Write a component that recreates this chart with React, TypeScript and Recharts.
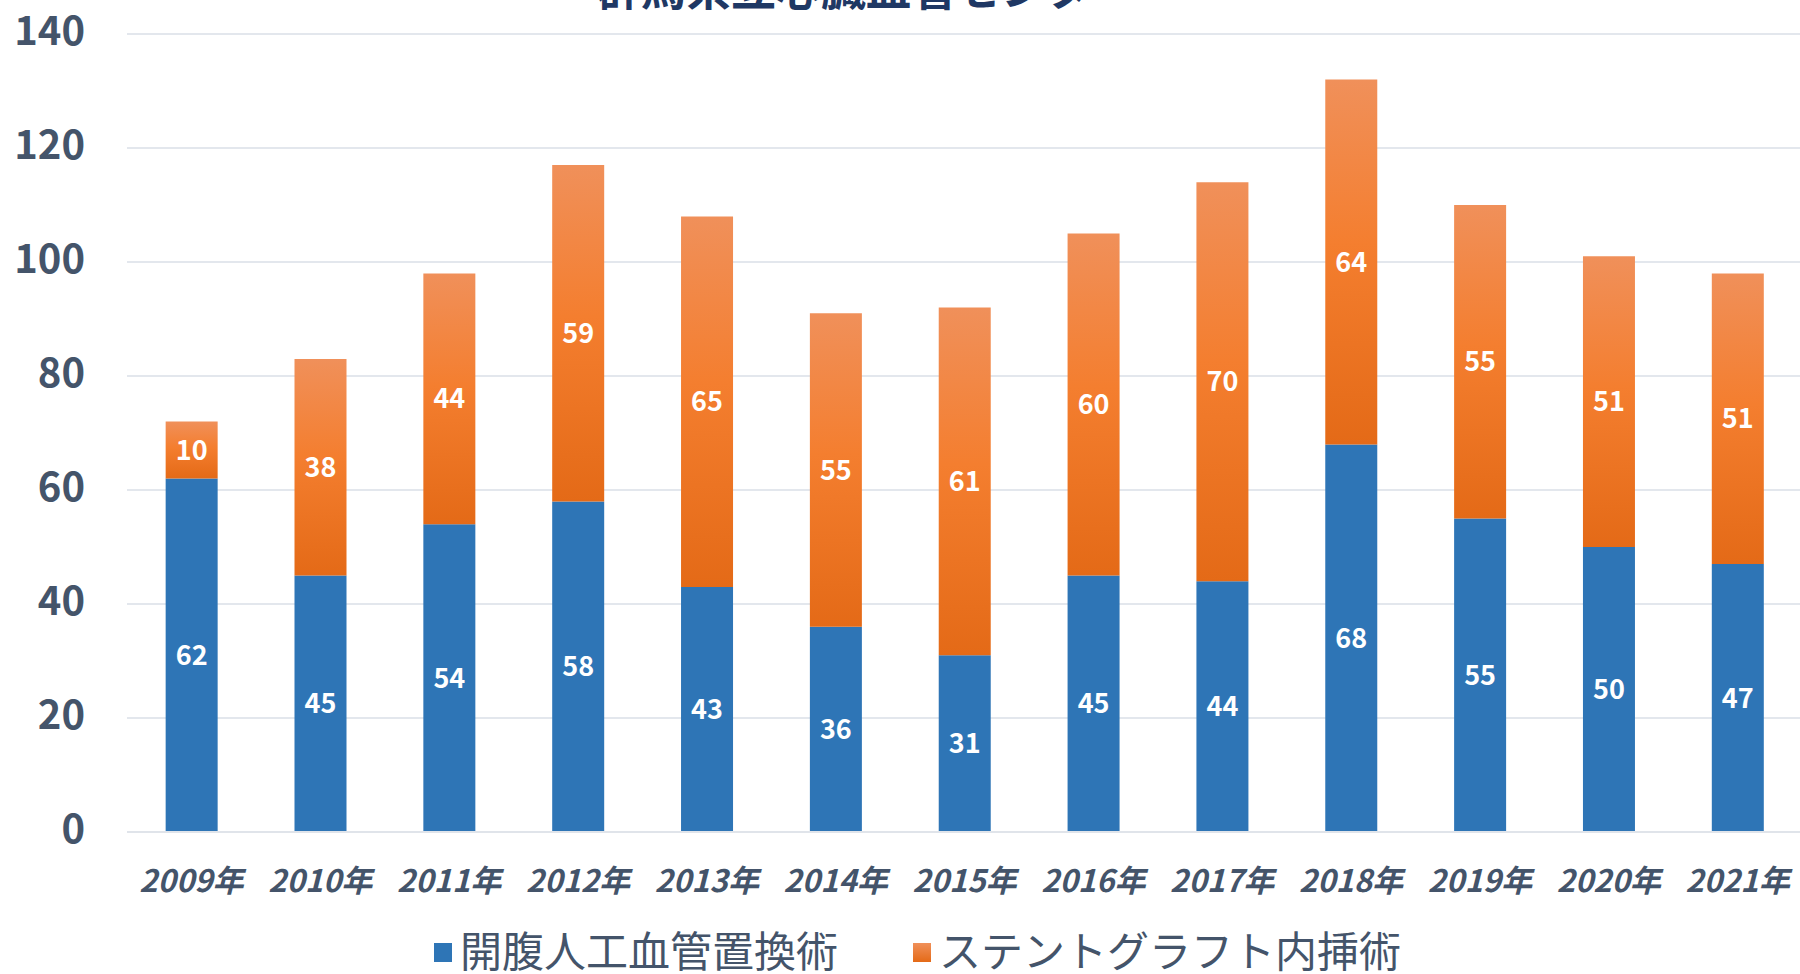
import { BarChart, Bar, XAxis, YAxis, CartesianGrid, LabelList, Legend } from "recharts";

const YEARS = ["2009年", "2010年", "2011年", "2012年", "2013年", "2014年", "2015年", "2016年", "2017年", "2018年", "2019年", "2020年", "2021年"];
const OPEN_REPAIR = [62, 45, 54, 58, 43, 36, 31, 45, 44, 68, 55, 50, 47];
const STENT_GRAFT = [10, 38, 44, 59, 65, 55, 61, 60, 70, 64, 55, 51, 51];
const Y_TICKS = [0, 20, 40, 60, 80, 100, 120, 140];

const TITLE = "群馬県立心臓血管センター";
const SERIES = [
  { key: "open", name: "開腹人工血管置換術", color: "#2E75B6" },
  { key: "stent", name: "ステントグラフト内挿術", color: "url(#stentGrad)" },
];

const FONT = '"Noto Sans CJK JP", "Noto Sans", sans-serif';
const TEXT = "#44546A";

const data = YEARS.map((year, i) => ({ year, open: OPEN_REPAIR[i], stent: STENT_GRAFT[i] }));

function LegendContent() {
  return (
    <div style={{ display: "flex", alignItems: "center", fontFamily: FONT, fontSize: 42, lineHeight: 1, color: TEXT }}>
      {SERIES.map((s, i) => (
        <div key={s.key} style={{ display: "flex", alignItems: "center", marginRight: i === 0 ? 75 : 0 }}>
          <span
            style={{
              display: "inline-block",
              width: 18,
              height: 19,
              marginRight: 8,
              marginTop: 6,
              background: i === 0 ? "#2E75B6" : "linear-gradient(#F0905A, #E46A17)",
            }}
          />
          <span>{s.name}</span>
        </div>
      ))}
    </div>
  );
}

export default function App() {
  return (
    <div style={{ position: "absolute", left: 0, top: 0, width: 1800, height: 974, overflow: "hidden", background: "#fff" }}>
      <svg width={1800} height={974} style={{ position: "absolute", left: 0, top: 0, pointerEvents: "none" }}>
        <text x={866} y={6} textAnchor="middle" fontFamily={FONT} fontSize={45} fontWeight={700} fill="#1F3864">
          {TITLE}
        </text>
      </svg>
      <BarChart
        width={1800}
        height={974}
        data={data}
        margin={{ top: 34, right: -2, bottom: 0, left: 0 }}
        barCategoryGap="30%"
        style={{ position: "absolute", left: 0, top: 0 }}
      >
        <defs>
          <linearGradient id="stentGrad" x1="0" y1="0" x2="0" y2="1">
            <stop offset="0%" stopColor="#F0905A" />
            <stop offset="45%" stopColor="#F47E2F" />
            <stop offset="100%" stopColor="#E46A17" />
          </linearGradient>
        </defs>
        <CartesianGrid vertical={false} stroke="#E3E7ED" strokeWidth={2} />
        <XAxis
          dataKey="year"
          height={142}
          axisLine={{ stroke: "#E0E4EA", strokeWidth: 2 }}
          tickLine={false}
          tickSize={0}
          tickMargin={38}
          interval={0}
          tick={{ fill: TEXT, fontSize: 31, fontStyle: "italic", fontWeight: 700, fontFamily: FONT }}
        />
        <YAxis
          width={127}
          domain={[0, 140]}
          ticks={Y_TICKS}
          axisLine={false}
          tickLine={false}
          tickSize={0}
          tickMargin={42}
          tick={{ fill: TEXT, fontSize: 40, fontWeight: 700, fontFamily: FONT, dy: -3 }}
        />
        <Legend
          verticalAlign="middle"
          align="center"
          layout="horizontal"
          wrapperStyle={{ top: 928, left: 434, width: 1100 }}
          content={LegendContent}
        />
        <Bar dataKey="open" name={SERIES[0].name} stackId="a" fill={SERIES[0].color} isAnimationActive={false}>
          <LabelList dataKey="open" position="center" fill="#fff" fontSize={27} fontWeight={700} fontFamily={FONT} />
        </Bar>
        <Bar dataKey="stent" name={SERIES[1].name} stackId="a" fill={SERIES[1].color} isAnimationActive={false}>
          <LabelList dataKey="stent" position="center" fill="#fff" fontSize={27} fontWeight={700} fontFamily={FONT} />
        </Bar>
      </BarChart>
    </div>
  );
}
